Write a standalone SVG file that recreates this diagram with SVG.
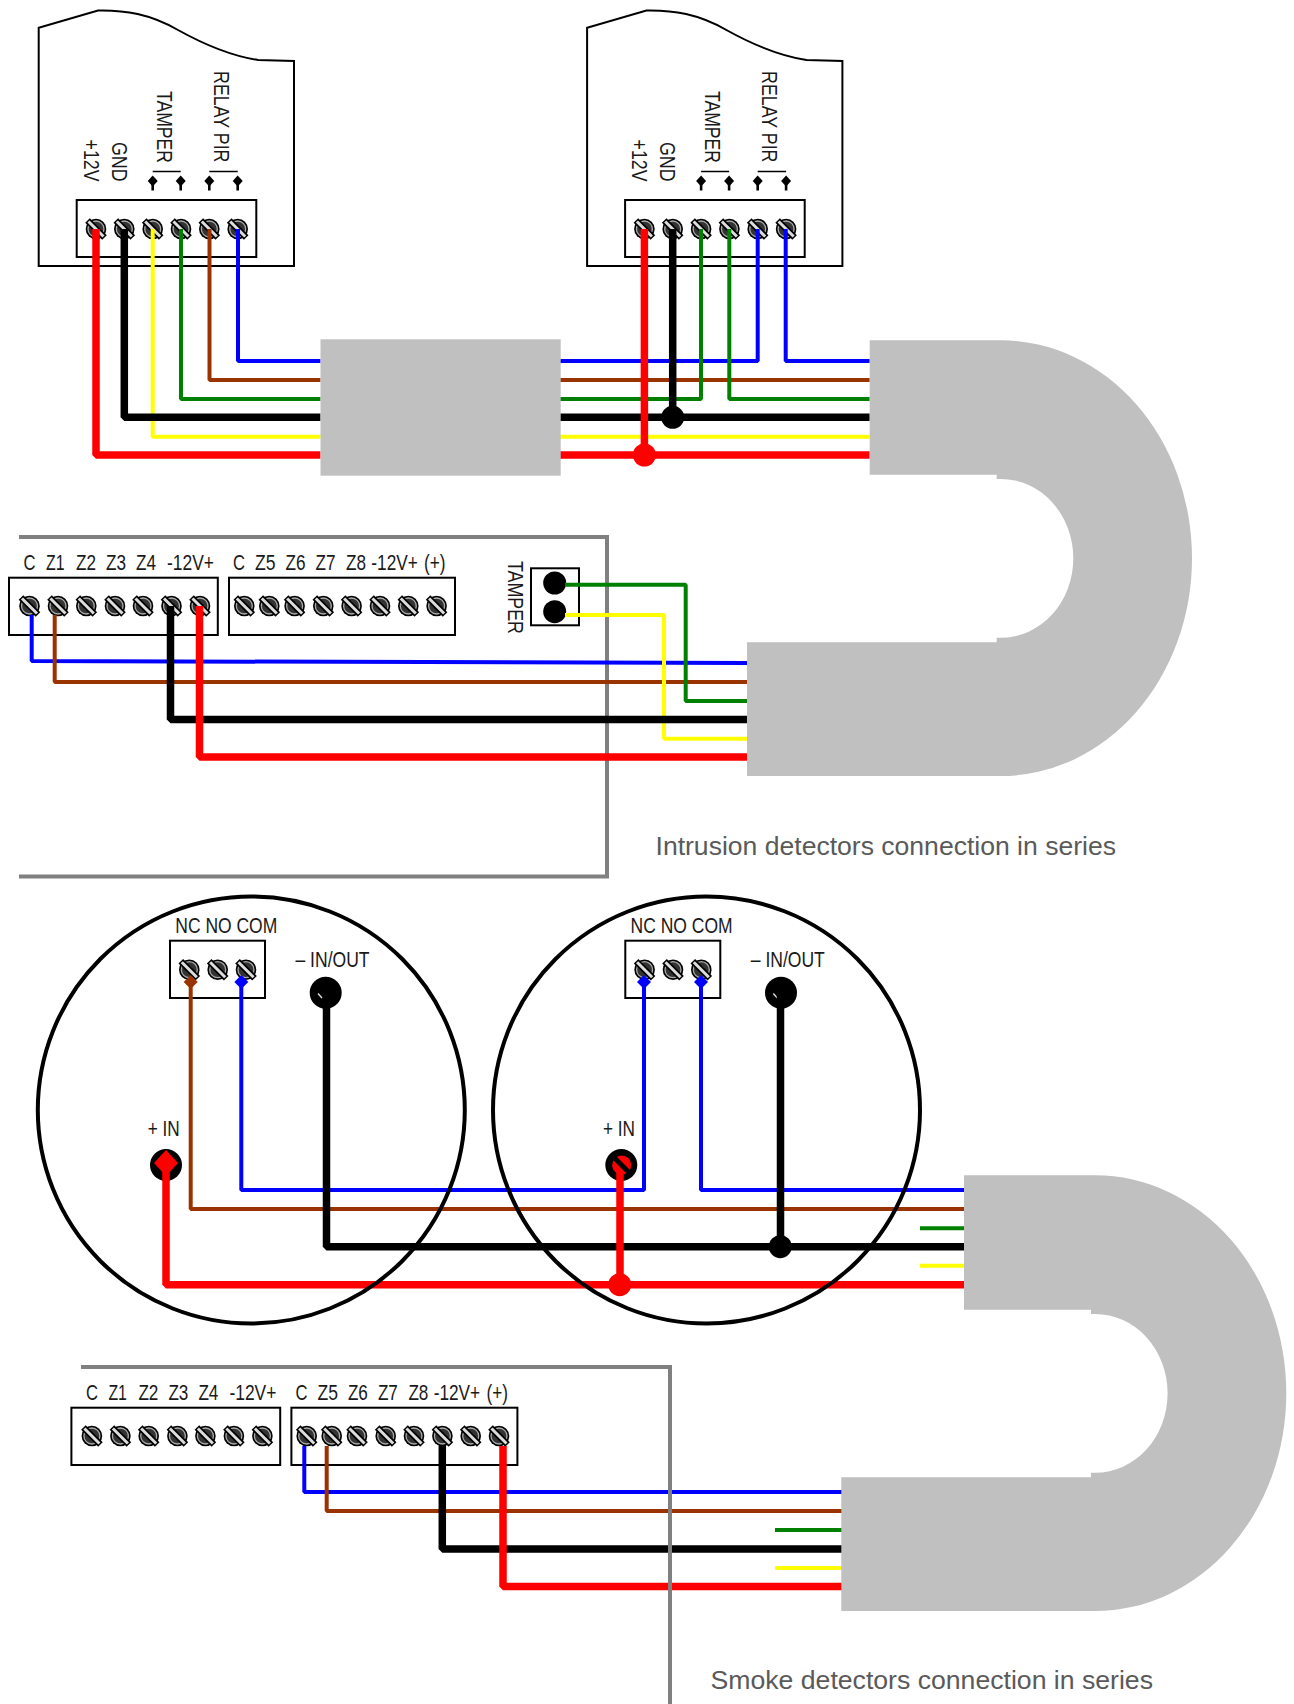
<svg xmlns="http://www.w3.org/2000/svg" xmlns:xlink="http://www.w3.org/1999/xlink" width="1294" height="1704" viewBox="0 0 1294 1704">
<style>
text{font-family:"Liberation Sans",Arial,sans-serif;font-size:21.5px;fill:#1a1a1a}
.cap{font-size:25px;fill:#5a5a5a}
.box{fill:#fff;stroke:#000;stroke-width:2}
.panel{fill:none;stroke:#808080;stroke-width:4}
.cable{fill:#c0c0c0}
.w{fill:none;stroke-linejoin:bevel}
.blue{stroke:#00f;stroke-width:4}
.brown{stroke:#993300;stroke-width:4}
.green{stroke:#008000;stroke-width:4}
.yellow{stroke:#ff0;stroke-width:4}
.black{stroke:#000;stroke-width:7.5}
.red{stroke:#f00;stroke-width:7.5}
.circle{fill:none;stroke:#000;stroke-width:4}
</style>
<defs>
<g id="screw"><circle r="10.3" fill="#000"/><circle r="8" fill="#333" stroke="#aaa" stroke-width="1.3"/><line x1="-8.5" y1="-8.5" x2="8.5" y2="8.5" stroke="#000" stroke-width="6.5"/><line x1="-7.5" y1="-7.5" x2="7.5" y2="7.5" stroke="#ddd" stroke-width="3"/></g>
<g id="pin"><path d="M0-5.5 5 0 0 5.5-5 0Z" fill="#000"/><line x1="0" y1="0" x2="0" y2="9.5" stroke="#000" stroke-width="2.6"/></g>
<g id="sensor-top">
<path d="M38.7 266V27.7L98 10.5C125 10 150 14 178 30C205 45 232 56 258 60L294 61V266Z" fill="#fff" stroke="#000" stroke-width="2"/>
<rect class="box" x="76.7" y="200" width="179.6" height="57"/>
<use href="#screw" x="96" y="229"/><use href="#screw" x="124.3" y="229"/><use href="#screw" x="152.7" y="229"/><use href="#screw" x="181" y="229"/><use href="#screw" x="209.3" y="229"/><use href="#screw" x="237.7" y="229"/>
<path d="M152.7 171.5H180.7M209.3 171.5H237.7" stroke="#000" stroke-width="1.6" fill="none"/>
<use href="#pin" x="152.7" y="181"/><use href="#pin" x="180.7" y="181"/><use href="#pin" x="209.3" y="181"/><use href="#pin" x="237.7" y="181"/>
<text transform="translate(83.5 139.5) rotate(90)" textLength="42" lengthAdjust="spacingAndGlyphs">+12V</text>
<text transform="translate(112 142) rotate(90)" textLength="39.5" lengthAdjust="spacingAndGlyphs">GND</text>
<text transform="translate(157 91) rotate(90)" textLength="72" lengthAdjust="spacingAndGlyphs">TAMPER</text>
<text transform="translate(213.5 71) rotate(90)" textLength="91.5" lengthAdjust="spacingAndGlyphs">RELAY PIR</text>
</g>
<g id="panel-terms">
<rect class="box" x="9" y="577.7" width="208.8" height="57.3"/>
<rect class="box" x="229" y="577.7" width="226" height="57.3"/>
<use href="#screw" x="29.5" y="606"/><use href="#screw" x="58" y="606"/><use href="#screw" x="86.3" y="606"/><use href="#screw" x="115" y="606"/><use href="#screw" x="143" y="606"/><use href="#screw" x="171.5" y="606"/><use href="#screw" x="200" y="606"/>
<use href="#screw" x="244.3" y="606"/><use href="#screw" x="269.3" y="606"/><use href="#screw" x="294.6" y="606"/><use href="#screw" x="323.3" y="606"/><use href="#screw" x="351.6" y="606"/><use href="#screw" x="380" y="606"/><use href="#screw" x="408.3" y="606"/><use href="#screw" x="436.6" y="606"/>
<text x="23.5" y="570" textLength="12" lengthAdjust="spacingAndGlyphs">C</text>
<text x="46" y="570" textLength="18.5" lengthAdjust="spacingAndGlyphs">Z1</text>
<text x="76" y="570" textLength="20" lengthAdjust="spacingAndGlyphs">Z2</text>
<text x="106" y="570" textLength="20" lengthAdjust="spacingAndGlyphs">Z3</text>
<text x="136" y="570" textLength="20" lengthAdjust="spacingAndGlyphs">Z4</text>
<text x="167" y="570" textLength="47" lengthAdjust="spacingAndGlyphs">-12V+</text>
<text x="233" y="570" textLength="12" lengthAdjust="spacingAndGlyphs">C</text>
<text x="255" y="570" textLength="20.5" lengthAdjust="spacingAndGlyphs">Z5</text>
<text x="285.5" y="570" textLength="20" lengthAdjust="spacingAndGlyphs">Z6</text>
<text x="315.5" y="570" textLength="20" lengthAdjust="spacingAndGlyphs">Z7</text>
<text x="346" y="570" textLength="20" lengthAdjust="spacingAndGlyphs">Z8</text>
<text x="371.3" y="570" textLength="46.5" lengthAdjust="spacingAndGlyphs">-12V+</text>
<text x="424" y="570" textLength="21.5" lengthAdjust="spacingAndGlyphs">(+)</text>
</g>
<path id="u" class="cable" d="M869.7 340.3H1001A191 217.85 0 0 1 1001 776H747V642.3H996.7V637.7H1001A72.3 79.35 0 0 0 1001 479H996.7V474.7H869.7Z"/>
<g id="det-terms">
<rect class="box" x="170" y="940.7" width="95" height="57.3"/>
<use href="#screw" x="189.3" y="969.7"/><use href="#screw" x="217.7" y="969.7"/><use href="#screw" x="246" y="969.7"/>
<text x="175.3" y="932.7" textLength="102" lengthAdjust="spacingAndGlyphs">NC NO COM</text>
<text x="295.5" y="966.7" textLength="74" lengthAdjust="spacingAndGlyphs">– IN/OUT</text>
<text x="147.7" y="1136" textLength="32" lengthAdjust="spacingAndGlyphs">+ IN</text>
<circle cx="325.7" cy="992.7" r="16" fill="#000"/>
<line x1="318" y1="993.5" x2="322" y2="998" stroke="#ddd" stroke-width="1.4"/>
<circle cx="166" cy="1165" r="16" fill="#000"/>
</g>
</defs>

<g id="sensor-1"><use href="#sensor-top"/></g>
<g id="sensor-2"><use href="#sensor-top" x="548.4"/></g>
<g id="panel-1">
<path class="panel" d="M19 537H607V876.5H19"/>
<use href="#panel-terms"/>
<rect class="box" x="531" y="568.3" width="48" height="57"/>
<circle cx="554.7" cy="583" r="11.5" fill="#000"/>
<circle cx="554.7" cy="611.7" r="11.5" fill="#000"/>
<text transform="translate(508 561) rotate(90)" textLength="73" lengthAdjust="spacingAndGlyphs">TAMPER</text>
</g>
<g id="panel-2-terminals"><use href="#panel-terms" x="62.4" y="830"/></g>
<g id="detector-1-terminals"><use href="#det-terms"/></g>
<g id="detector-2-terminals"><use href="#det-terms" x="455.3"/></g>

<g id="connectors">
<path class="w blue" d="M238 229V361H320.5"/>
<path class="w brown" d="M209.5 229V380H320.5"/>
<path class="w green" d="M181 229V399H320.5"/>
<path class="w yellow" d="M152.7 229V436.7H320.5"/>
<path class="w black" d="M124.3 229V417.3H320.5"/>
<path class="w red" d="M96 229V455H320.5"/>
<path class="w blue" d="M560 361H757.7V229"/>
<path class="w blue" d="M869.7 361H785.7V229"/>
<path class="w brown" d="M560 380H869.7"/>
<path class="w green" d="M560 399H701V229"/>
<path class="w green" d="M869.7 399H729.3V229"/>
<path class="w yellow" d="M560 436.7H869.7"/>
<path class="w black" d="M560 417.3H869.7M672.7 229V417.3"/>
<path class="w red" d="M560 455H869.7M644.4 229V455"/>
<circle cx="672.7" cy="417.3" r="11.5" fill="#000"/>
<circle cx="644.4" cy="455" r="11.5" fill="#f00"/>
<path class="w blue" d="M31.7 615V661L747 663"/>
<path class="w brown" d="M54.7 615V682H747"/>
<path class="w green" d="M565 584.7H685.7V701H747"/>
<path class="w yellow" d="M565 615H664V738.7H747"/>
<path class="w black" d="M170.5 606V719.5H747"/>
<path class="w red" d="M199.5 606V757H747"/>
<path d="M190.7 975 197.7 982 190.7 989 183.7 982Z" fill="#993300"/>
<path d="M241.3 975 248.3 982 241.3 989 234.3 982Z" fill="#00f"/>
<path d="M644 975 651 982 644 989 637 982Z" fill="#00f"/>
<path d="M701 975 708 982 701 989 694 982Z" fill="#00f"/>
<path class="w blue" d="M241.3 982V1190H644V982"/>
<path class="w blue" d="M701 982V1190H964"/>
<path class="w brown" d="M190.7 982V1209H964"/>
<path class="w green" d="M920 1228.3H964"/>
<path class="w yellow" d="M920 1265.7H964"/>
<path class="w black" d="M326.5 993V1246.7H964M780.5 993V1246.7"/>
<path class="w red" d="M166 1165V1284.7H964M620 1165V1284.7"/>
<path d="M166 1150 178 1163 166 1176 154 1163Z" fill="#f00"/>
<circle cx="621.7" cy="1165" r="9.5" fill="#f00"/>
<line x1="614" y1="1157.5" x2="629" y2="1172.5" stroke="#000" stroke-width="5"/>
<circle cx="780.3" cy="1246.7" r="11.5" fill="#000"/>
<circle cx="619.7" cy="1284.7" r="11.5" fill="#f00"/>
<path class="w blue" d="M304.3 1446V1492H842"/>
<path class="w brown" d="M326.7 1446V1511H842"/>
<path class="w green" d="M775 1530H842"/>
<path class="w yellow" d="M775 1568H842"/>
<path class="w black" d="M442.3 1446V1549H842"/>
<path class="w red" d="M503 1446V1586.6H842"/>
</g>

<g id="splice"><rect class="cable" x="320.5" y="339.3" width="240.2" height="136.4"/></g>
<g id="cable-1"><use href="#u"/></g>
<g id="cable-2"><use href="#u" x="94.3" y="835"/></g>
<g id="detector-1"><circle class="circle" cx="251.3" cy="1110" r="213.5"/></g>
<g id="detector-2"><circle class="circle" cx="706.5" cy="1110" r="213.5"/></g>
<g id="panel-2"><path class="panel" d="M81 1367H670V1704"/></g>
<g id="captions">
<text class="cap" x="655.5" y="855" textLength="460.5" lengthAdjust="spacingAndGlyphs">Intrusion detectors connection in series</text>
<text class="cap" x="710.5" y="1688.5" textLength="442.5" lengthAdjust="spacingAndGlyphs">Smoke detectors connection in series</text>
</g>
</svg>
